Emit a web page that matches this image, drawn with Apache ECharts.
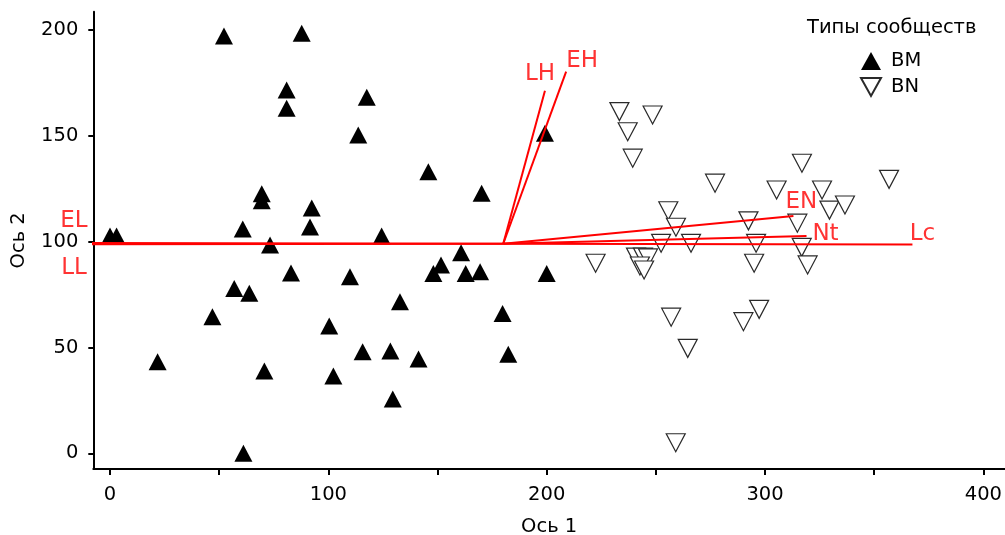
<!DOCTYPE html>
<html><head><meta charset="utf-8">
<script src="https://cdn.jsdelivr.net/npm/echarts@6/dist/echarts.min.js"></script>
<style>html,body{margin:0;padding:0;background:#fff}#c{width:1005px;height:535px}</style>
</head><body><div id="c"></div><script>
// ---- data ----
const bmX = [52.2, 87.8, 80.9, 80.9, 117.6, 113.7, 199.2, 145.8, 170.2, 69.5, 69.5, 92.4, 91.6, 60.8, 73.3, 0.0, 3.0, 124.4, 82.9, 56.9, 63.8, 46.9, 21.8, 70.7, 61.1, 100.4, 102.3, 109.9, 148.1, 151.6, 160.8, 162.9, 169.5, 200.0, 132.8, 179.8, 182.4, 115.7, 128.4, 141.3, 129.5];
const bmY = [197.1, 198.4, 171.6, 163.0, 168.2, 150.4, 151.2, 133.0, 122.8, 122.6, 119.3, 115.9, 106.9, 106.0, 98.4, 102.7, 102.7, 102.7, 85.2, 77.9, 75.6, 64.5, 43.3, 38.9, 0.0, 60.1, 36.5, 83.4, 85.0, 89.0, 94.8, 85.0, 85.8, 85.0, 71.6, 66.1, 46.8, 48.0, 48.3, 44.5, 25.7];
const bnX = [233.3, 248.5, 237.1, 239.4, 277.1, 305.3, 316.9, 356.8, 326.1, 329.5, 336.6, 292.4, 314.8, 255.7, 259.2, 252.4, 266.1, 295.9, 316.8, 222.4, 240.9, 244.1, 246.4, 242.7, 244.6, 295.0, 319.5, 257.0, 264.6, 290.1, 297.3, 259.1];
const bnY = [161.4, 159.8, 151.9, 139.4, 127.6, 124.4, 137.0, 129.4, 124.4, 114.9, 117.3, 109.8, 108.7, 114.6, 106.8, 99.2, 99.2, 99.2, 97.3, 89.8, 92.7, 92.7, 92.3, 88.5, 86.6, 89.8, 89.0, 64.3, 49.6, 62.2, 68.0, 5.0];
const vectorNames = ['LH', 'EH', 'EN', 'Nt', 'Lc', 'EL', 'LL'];
const vectorOrigin = [180.1, 99.0];
const vectorEndX = [199.2, 208.9, 313.0, 319.0, 367.5, -11.0, -11.0];
const vectorEndY = [171.3, 180.3, 112.1, 102.7, 98.6, 99.3, 98.7];
const xTickValues = [0, 50, 100, 150, 200, 250, 300, 350, 400];
const xLabelValues = [0, 100, 200, 300, 400];
const yTickValues = [0, 50, 100, 150, 200];
const xName = 'Ось 1';
const yName = 'Ось 2';
const legendTitle = 'Типы сообществ';
const groupNames = ['BM', 'BN'];

// ---- styling ----
const FONT = 'DejaVu Sans';
const FS = 19.5;
const RED = '#ff0000';
const downTri = 'path://M0,0L20,0L10,18Z';
const labelOffsets = {LH: [-5, -17], EH: [16, -11], EN: [8, -14], Nt: [19, -2], Lc: [10, -11], EL: [-12, -22], LL: [-12, 24]};

const chart = echarts.init(document.getElementById('c'), null, {renderer: 'canvas'});

const vectorSeries = vectorNames.map((n, i) => ({
  type: 'line', name: 'vec_' + n, silent: true, clip: false, z: 5,
  symbol: 'none', animation: false,
  lineStyle: {color: RED, width: 2},
  data: [vectorOrigin, [vectorEndX[i], vectorEndY[i]]]
}));

const option = {
  animation: false,
  backgroundColor: '#fff',
  title: {
    text: legendTitle, left: 807, top: 18, padding: 0,
    textStyle: {fontFamily: FONT, fontSize: FS, fontWeight: 'normal', color: '#000'}
  },
  legend: {
    orient: 'vertical', left: 860, top: 51, padding: 0,
    itemWidth: 20, itemHeight: 18, itemGap: 6,
    textStyle: {fontFamily: FONT, fontSize: FS, color: '#000', padding: [0, 0, 0, 5]},
    data: [{name: groupNames[0], icon: 'triangle'}, {name: groupNames[1], icon: downTri}]
  },
  grid: {left: 93.3, right: 0, top: 11.7, bottom: 66, containLabel: false, outerBoundsMode: 'none'},
  xAxis: {
    type: 'value', min: -7.65, max: 409.9,
    name: xName, nameLocation: 'middle', nameGap: 48,
    nameTextStyle: {fontFamily: FONT, fontSize: FS, color: '#000'},
    axisLine: {show: true, onZero: false, lineStyle: {color: '#000', width: 2}},
    axisTick: {show: true, length: 6, lineStyle: {color: '#000', width: 2}, customValues: xTickValues},
    axisLabel: {fontFamily: FONT, fontSize: FS, color: '#000', margin: 16, customValues: xLabelValues},
    splitLine: {show: false}
  },
  yAxis: {
    type: 'value', min: -7.4, max: 208.6,
    name: yName, nameLocation: 'middle', nameGap: 64, nameRotate: 90,
    nameTextStyle: {fontFamily: FONT, fontSize: FS, color: '#000'},
    axisLine: {show: true, onZero: false, lineStyle: {color: '#000', width: 2}},
    axisTick: {show: true, length: 5, lineStyle: {color: '#000', width: 2}, customValues: yTickValues},
    axisLabel: {fontFamily: FONT, fontSize: FS, color: '#000', margin: 15, customValues: yTickValues},
    splitLine: {show: false}
  },
  series: [
    {
      type: 'scatter', name: groupNames[1], symbol: downTri, symbolSize: [19, 18], z: 3,
      itemStyle: {color: '#fff', borderColor: '#2a2a2a', borderWidth: 1.2, opacity: 1},
      data: bnX.map((x, i) => [x, bnY[i]])
    },
    {
      type: 'scatter', name: groupNames[0], symbol: 'triangle', symbolSize: [18, 17], z: 3,
      itemStyle: {color: '#000', opacity: 1},
      data: bmX.map((x, i) => [x, bmY[i]])
    },
    ...vectorSeries,
    {
      type: 'scatter', name: 'vecLabels', silent: true, clip: false, z: 6,
      symbolSize: 1, itemStyle: {color: 'rgba(0,0,0,0)'},
      label: {show: true, position: 'inside', formatter: p => p.name, color: RED, fontFamily: FONT, fontSize: 23, align: 'center', verticalAlign: 'middle'},
      data: vectorNames.map((n, i) => ({name: n, value: [vectorEndX[i], vectorEndY[i]], label: {offset: labelOffsets[n]}}))
    }
  ]
};
chart.setOption(option);
</script></body></html>
